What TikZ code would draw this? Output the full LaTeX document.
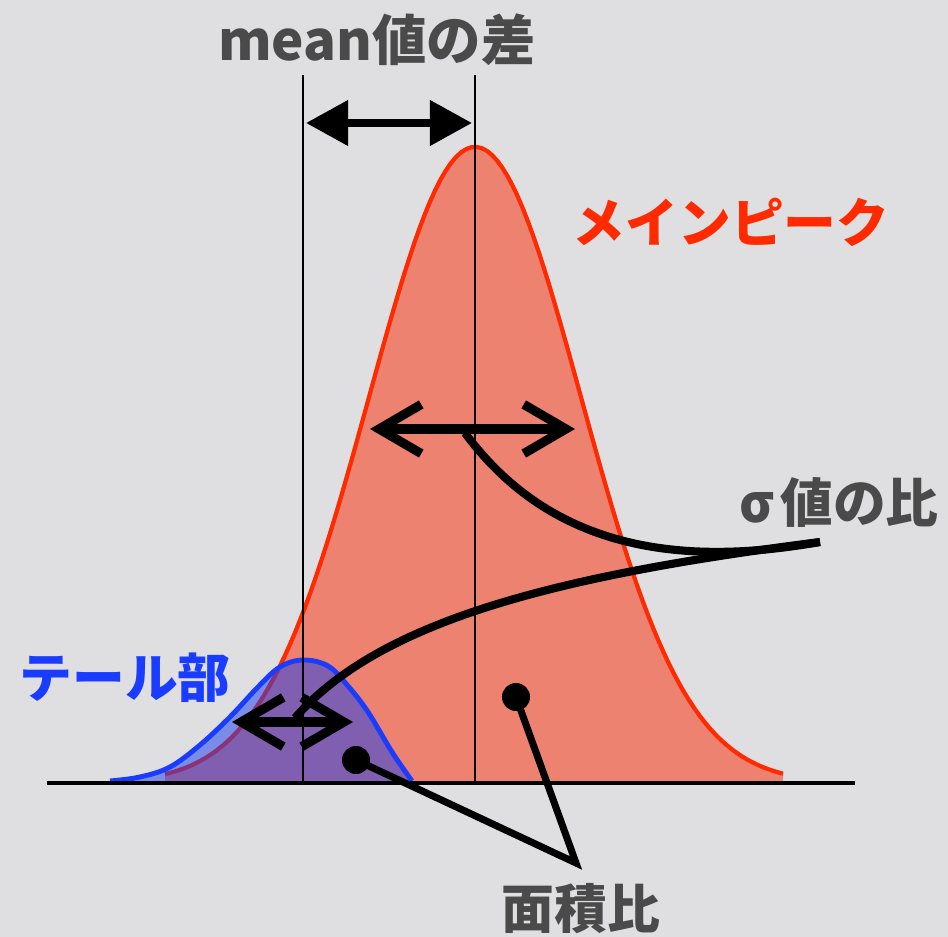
\documentclass[tikz,border=0pt]{standalone}
\usepackage{fontspec}
\newfontfamily\jpfont{Noto Sans CJK JP}
\usetikzlibrary{arrows.meta}

\definecolor{bggray}{RGB}{223,223,225}
\definecolor{peakfill}{RGB}{238,130,112}
\definecolor{peakline}{RGB}{255,42,0}
\definecolor{tailfill}{RGB}{20,60,240}
\definecolor{tailline}{RGB}{26,60,255}
\definecolor{txtgray}{RGB}{74,74,74}

\tikzset{
  lbl/.style={font=\jpfont\bfseries\fontsize{15pt}{15pt}\selectfont, inner sep=0pt},
  guide/.style={black, line width=0.6pt},
  lead/.style={black, line width=2.3pt},
  spread/.style={black, line width=2.6pt,
    {Straight Barb[length=12pt,width=14pt]}-{Straight Barb[length=12pt,width=14pt]}},
  dotmark/.style={circle, fill=black, inner sep=0pt, minimum size=0.28cm},
}

\begin{document}
\begin{tikzpicture}[x=0.01cm, y=-0.01cm]
\fill[bggray] (0,0) rectangle (948,937);
\useasboundingbox (0,0) rectangle (948,937);

% main peak
\fill[peakfill] (165,783) -- plot[domain=165:783, samples=120]
  (\x,{783-636*exp(-0.5*((\x-475)/106)^2)}) -- (783,783) -- cycle;
\draw[peakline, line width=1.2pt] plot[domain=165:783, samples=120]
  (\x,{783-636*exp(-0.5*((\x-475)/106)^2)});

% tail part
\fill[tailfill, fill opacity=0.5] (110,783) -- plot[smooth, tension=0.6] coordinates
  {(110,781) (140,777) (170,767) (200,745) (230,717) (258,687) (280,667) (303,660)
   (328,666) (348,686) (368,712) (392,752) (412,781)} -- (412,783) -- cycle;
\draw[tailline, line width=1.4pt] plot[smooth, tension=0.6] coordinates
  {(110,781) (140,777) (170,767) (200,745) (230,717) (258,687) (280,667) (303,660)
   (328,666) (348,686) (368,712) (392,752) (412,781)};

\foreach \m in {303,475}
  \draw[guide] (\m,75) -- (\m,783);
\draw[black, line width=1.3pt] (47,783) -- (855,783);

% mean difference
\coordinate (meanL) at (306,123);
\coordinate (meanR) at (472,123);
\draw[black, line width=2.3pt,
  {Triangle[length=12pt,width=12.5pt]}-{Triangle[length=12pt,width=12.5pt]}] (meanL) -- (meanR);

% sigma
\coordinate (peakL) at (370,429);
\coordinate (peakR) at (575,429);
\coordinate (tailL) at (232,722);
\coordinate (tailR) at (353,722);
\draw[spread] (peakL) -- (peakR);
\draw[spread] (tailL) -- (tailR);

\coordinate (peakmid) at (465,433);
\coordinate (tailmid) at (295,718);
\coordinate (sigend) at (820,542);
\draw[lead] (peakmid) .. controls (555,555) and (690,565) .. (sigend);
\draw[lead] (tailmid) .. controls (380,620) and (560,575) .. (sigend);

% area
\node[dotmark] (areaP) at (516,697) {};
\node[dotmark] (areaT) at (356,760) {};
\coordinate (areatip) at (576,863);
\draw[lead, line width=2pt] (areaT.center) -- (areatip) -- (areaP.center);

\node[lbl, text=txtgray, font=\jpfont\bfseries\fontsize{15.5pt}{15.5pt}\selectfont] (meanlbl) at (377,40) {mean値の差};
\node[lbl, text=peakline] (peaklbl) at (731,222) {メインピーク};
\node[lbl, text=txtgray] (siglbl) at (839,502) {σ\hspace{0.12em}値の比};
\node[lbl, text=tailline] (taillbl) at (125,678) {テール部};
\node[lbl, text=txtgray] (arealbl) at (581,909) {面積比};
\end{tikzpicture}
\end{document}
